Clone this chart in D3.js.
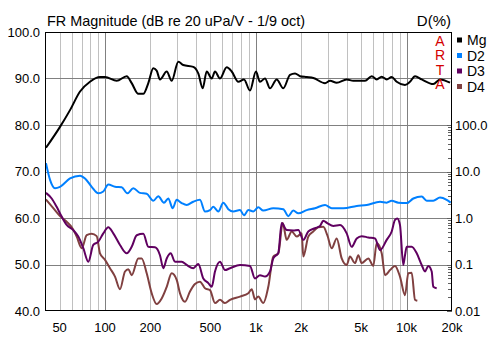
<!DOCTYPE html>
<html>
<head>
<meta charset="utf-8">
<script src="https://cdn.jsdelivr.net/npm/d3@7"></script>
<style>
  html, body { margin: 0; padding: 0; background: #fff; }
  svg { display: block; font-family: "Liberation Sans", Arial, sans-serif; }
</style>
</head>
<body>
<div id="chart"></div>
<script>
// magnitude response
const mgFreq = [40.6, 50.3, 58.6, 68.3, 79.5, 92.6, 100, 119.6, 139.3, 150.3, 166.3, 179.4, 193.7, 209, 220, 231.5, 256.6, 276.8, 306.3, 330.5, 384.9, 415.4, 444.5, 472.6, 510, 536.3, 578.7, 641.3, 692.1, 765.5, 835, 915, 1002, 1066, 1151, 1242, 1376, 1521, 1686, 1820, 1964, 2175, 2406, 2877, 3105, 3440, 4006, 4431, 5300, 5869, 6335, 6837, 7379, 7963, 8596, 9758, 10530, 11370, 12590, 15030, 16650, 19400];
const mgDb = [75.1, 79.6, 83.2, 87.2, 89.3, 90.3, 90.3, 89.5, 90.5, 89.0, 86.7, 86.7, 89.0, 92.2, 91.7, 89.8, 91.5, 89.5, 93.6, 92.9, 92.5, 91.1, 87.9, 91.5, 90.0, 91.5, 90.0, 92.4, 91.5, 89.3, 89.8, 87.4, 91.5, 89.3, 90.0, 87.9, 89.8, 87.9, 90.8, 91.1, 90.5, 90.3, 90.1, 89.0, 89.5, 89.1, 89.8, 89.5, 89.5, 90.5, 89.8, 90.4, 89.8, 90.3, 89.3, 88.6, 89.3, 90.5, 89.8, 88.8, 89.8, 89.1];

// 2nd harmonic
const d2Freq = [40.6, 43.2, 46.6, 50.3, 58.6, 68.3, 73.7, 81.6, 90.3, 97.4, 105.2, 116.5, 129, 140.6, 154, 170.6, 189, 209, 225.6, 246, 262.8, 281, 298.8, 322.6, 348.1, 384.9, 426.1, 460.4, 497.1, 522.7, 564.1, 608.6, 657.1, 709.2, 785.7, 835, 891.9, 962.4, 1039, 1121, 1306, 1521, 1643, 1773, 1914, 2175, 2469, 2877, 3187, 3804, 4667, 5439, 6663, 7379, 7963, 8807, 10013, 11078, 12590, 13590, 15030, 16650, 18440, 19610];
const d2Db = [71.8, 68.2, 66.4, 66.7, 68.5, 69.1, 68.5, 66.7, 65.3, 65.7, 67.2, 66.7, 66.6, 65.3, 66.4, 65.4, 65.2, 63.7, 64.7, 63.3, 64.2, 62.1, 63.9, 63.2, 62.8, 63.5, 63.9, 61.4, 61.7, 62.4, 61.4, 63.3, 61.9, 61.4, 61.7, 60.6, 61.7, 61.4, 62.3, 61.6, 62.1, 61.9, 60.4, 61.6, 61.0, 61.7, 62.1, 62.8, 62.1, 62.1, 62.6, 62.8, 63.5, 63.3, 63.7, 63.3, 63.2, 64.2, 64.6, 63.7, 63.7, 64.4, 63.9, 63.3];

// 3rd harmonic
const d3Freq = [40.6, 44.3, 47.8, 51.6, 55.7, 61.6, 66.5, 71.8, 77.5, 83.6, 90.3, 97.4, 105.2, 113.5, 125.7, 139.3, 150.3, 162.3, 179.4, 193.7, 214.5, 231.5, 243.5, 256.6, 272.6, 291, 322.6, 348.1, 384.9, 415.4, 448.6, 484.3, 510, 536.3, 578.7, 624.6, 674.4, 785.7, 915, 987.7, 1066, 1151, 1242, 1306, 1410, 1485, 1603, 1773, 1914, 2065, 2229, 2469, 2665, 2802, 2979, 3266, 3617, 4006, 4322, 4667, 5037, 5573, 6172, 6663, 7379, 7963, 8376, 8674, 9039, 9506, 9758, 10013, 10810, 11670, 12590, 13240, 13930, 14670, 15030, 15830];
const d3Db = [65.4, 64.2, 62.4, 60.3, 58.5, 57.4, 56.0, 53.5, 50.6, 54.2, 54.9, 56.7, 58.0, 56.7, 54.2, 52.4, 53.8, 56.3, 56.6, 53.8, 53.7, 52.0, 49.2, 51.3, 52.4, 50.6, 50.6, 49.9, 49.2, 50.1, 47.0, 46.0, 45.2, 48.5, 50.6, 48.8, 49.2, 49.9, 49.7, 47.0, 47.7, 47.4, 48.5, 51.3, 52.5, 58.9, 57.4, 57.3, 57.4, 55.3, 57.1, 57.8, 58.3, 59.4, 58.9, 58.3, 58.5, 56.7, 53.8, 55.6, 56.1, 55.8, 55.6, 53.1, 55.3, 57.1, 59.6, 59.9, 58.5, 49.9, 52.0, 53.8, 53.8, 52.4, 49.9, 48.5, 49.7, 48.5, 45.2, 44.9];

// 4th harmonic
const d4Freq = [40.6, 45.4, 50.3, 55.7, 60.2, 64.9, 70.1, 75.6, 81.6, 88.1, 92.6, 100, 107.9, 116.5, 125.7, 135.7, 142.8, 150.3, 166.3, 175.1, 189, 204, 220, 237.6, 256.6, 276.8, 298.8, 314.3, 339.2, 366, 395, 426.1, 460.4, 497.1, 536.3, 578.7, 624.6, 674.4, 785.7, 891.9, 939.1, 987.7, 1039, 1121, 1210, 1306, 1410, 1508, 1603, 1730, 1868, 2016, 2065, 2229, 2406, 2597, 2802, 2979, 3187, 3440, 3712, 4006, 4211, 4547, 4782, 5037, 5573, 6014, 6335, 6837, 7193, 7759, 8376, 9039, 9758, 10260, 10810, 11370, 11776];
const d4Db = [64.0, 62.1, 60.4, 59.2, 58.0, 56.0, 53.5, 56.3, 56.6, 56.1, 52.4, 51.0, 49.2, 47.4, 44.7, 48.5, 49.0, 47.7, 51.3, 51.3, 48.1, 43.8, 41.5, 42.7, 45.2, 48.1, 46.7, 43.8, 42.0, 44.2, 45.8, 46.3, 44.9, 44.5, 41.7, 42.4, 41.7, 42.4, 43.1, 43.8, 44.7, 42.5, 43.1, 41.7, 45.2, 51.7, 52.4, 58.9, 55.3, 57.1, 56.0, 56.7, 51.7, 56.0, 57.1, 58.0, 58.1, 56.3, 53.5, 55.6, 51.3, 49.9, 51.7, 50.3, 52.0, 50.3, 51.3, 49.7, 54.6, 52.4, 47.7, 48.8, 49.7, 47.4, 43.4, 48.1, 48.2, 42.4, 42.2];

const seriesNames = ["Mg", "D2", "D3", "D4"];
const seriesColors = ["#000000", "#0080ff", "#600060", "#804040"];

const xTickValues = [50, 100, 200, 500, 1000, 2000, 5000, 10000, 20000];
const xTickLabels = ["50", "100", "200", "500", "1k", "2k", "5k", "10k", "20k"];
const yTickValues = [100, 90, 80, 70, 60, 50, 40];
const dTickValues = [100, 10, 1, 0.1, 0.01];
const dTickLabels = ["100.0", "10.0", "1.0", "0.1", "0.01"];

const W = 496, H = 337;
const plotLeft = 45, plotRight = 452, plotTop = 32, plotBottom = 311;

const svg = d3.select("#chart").append("svg")
    .attr("width", W)
    .attr("height", H);

const x = d3.scaleLog().domain([40, 20000]).range([plotLeft, plotRight]);
const y = d3.scaleLinear().domain([40, 100]).range([plotBottom, plotTop]);
const yD = d3.scaleLog().domain([0.01, 100]).range([plotBottom, y(80)]);

const crisp = v => Math.round(v) + 0.5;

// vertical grid: 1..9 per decade, decades darker
const gridFreqs = [];
[10, 100, 1000, 10000].forEach(dec => {
    for (let k = 1; k < 10; k++) {
        const f = dec * k;
        if (f > 40 && f < 20000) gridFreqs.push(f);
    }
});
svg.append("g").selectAll("line")
    .data(gridFreqs)
    .enter().append("line")
    .attr("x1", d => crisp(x(d))).attr("x2", d => crisp(x(d)))
    .attr("y1", plotTop).attr("y2", plotBottom)
    .attr("stroke", d => [100, 1000, 10000].includes(d) ? "#808080" : "#c0c0c0")
    .attr("stroke-width", 1);

svg.append("g").selectAll("line")
    .data(yTickValues.filter(v => v > 40 && v < 100))
    .enter().append("line")
    .attr("x1", plotLeft).attr("x2", plotRight)
    .attr("y1", d => crisp(y(d))).attr("y2", d => crisp(y(d)))
    .attr("stroke", "#808080")
    .attr("stroke-width", 1);

// minor ticks on the inside of the right axis
const dMinor = [];
[0.01, 0.1, 1, 10].forEach(dec => {
    for (let k = 2; k < 10; k++) dMinor.push(dec * k);
});
svg.append("g").selectAll("line")
    .data(dMinor)
    .enter().append("line")
    .attr("x1", plotRight - 4).attr("x2", plotRight)
    .attr("y1", d => crisp(yD(d))).attr("y2", d => crisp(yD(d)))
    .attr("stroke", "#606060");
svg.append("g").selectAll("line")
    .data(dTickValues)
    .enter().append("line")
    .attr("x1", plotRight - 5).attr("x2", plotRight)
    .attr("y1", d => crisp(yD(d))).attr("y2", d => crisp(yD(d)))
    .attr("stroke", "#606060");

// curves
svg.append("clipPath").attr("id", "plotclip")
    .append("rect")
    .attr("x", plotLeft).attr("y", plotTop)
    .attr("width", plotRight - plotLeft).attr("height", plotBottom - plotTop);

const line = d3.line()
    .x(d => x(d[0]))
    .y(d => y(d[1]))
    .curve(d3.curveMonotoneX);

const series = [
    d4Freq.map((f, i) => [f, d4Db[i]]),
    d3Freq.map((f, i) => [f, d3Db[i]]),
    d2Freq.map((f, i) => [f, d2Db[i]]),
    mgFreq.map((f, i) => [f, mgDb[i]])
];
const seriesColorOrder = [seriesColors[3], seriesColors[2], seriesColors[1], seriesColors[0]];

svg.append("g")
    .attr("clip-path", "url(#plotclip)")
    .selectAll("path")
    .data(series)
    .enter().append("path")
    .attr("d", line)
    .attr("fill", "none")
    .attr("stroke", (d, i) => seriesColorOrder[i])
    .attr("stroke-width", 2)
    .attr("stroke-linejoin", "round");

// frame
svg.append("rect")
    .attr("x", plotLeft + 0.5).attr("y", plotTop + 0.5)
    .attr("width", plotRight - plotLeft - 1).attr("height", plotBottom - plotTop - 1)
    .attr("fill", "none")
    .attr("stroke", "#000")
    .attr("stroke-width", 1);

// axis labels
svg.append("g").selectAll("text")
    .data(yTickValues)
    .enter().append("text")
    .attr("x", 40)
    .attr("y", d => y(d) + 4.5)
    .attr("text-anchor", "end")
    .attr("font-size", 13)
    .attr("fill", "#000")
    .text(d => d.toFixed(1));

svg.append("g").selectAll("text")
    .data(dTickValues)
    .enter().append("text")
    .attr("x", 455)
    .attr("y", d => yD(d) + 4.5)
    .attr("font-size", 13)
    .attr("fill", "#000")
    .text((d, i) => dTickLabels[i]);

svg.append("g").selectAll("text")
    .data(xTickValues)
    .enter().append("text")
    .attr("x", d => x(d))
    .attr("y", 332)
    .attr("text-anchor", "middle")
    .attr("font-size", 13)
    .attr("fill", "#000")
    .text((d, i) => xTickLabels[i]);

// titles
svg.append("text")
    .attr("x", 47).attr("y", 26)
    .attr("font-size", 15)
    .attr("textLength", 258)
    .attr("lengthAdjust", "spacingAndGlyphs")
    .attr("fill", "#000")
    .text("FR Magnitude (dB re 20 uPa/V - 1/9 oct)");
svg.append("text")
    .attr("x", 451).attr("y", 26)
    .attr("text-anchor", "end")
    .attr("font-size", 15)
    .attr("fill", "#000")
    .text("D(%)");

// ARTA mark
svg.append("g").selectAll("text")
    .data(["A", "R", "T", "A"])
    .enter().append("text")
    .attr("x", 440)
    .attr("y", (d, i) => 45.5 + i * 14.6)
    .attr("text-anchor", "middle")
    .attr("font-size", 14)
    .attr("fill", "#d40000")
    .text(d => d);

// legend
const legend = svg.append("g").selectAll("g")
    .data(seriesNames)
    .enter().append("g")
    .attr("transform", (d, i) => `translate(457, ${40 + i * 15.5})`);
legend.append("rect")
    .attr("x", 0).attr("y", -2.5)
    .attr("width", 5).attr("height", 5)
    .attr("fill", (d, i) => seriesColors[i]);
legend.append("text")
    .attr("x", 10).attr("y", 5)
    .attr("font-size", 14)
    .attr("fill", "#000")
    .text(d => d);
</script>
</body>
</html>
